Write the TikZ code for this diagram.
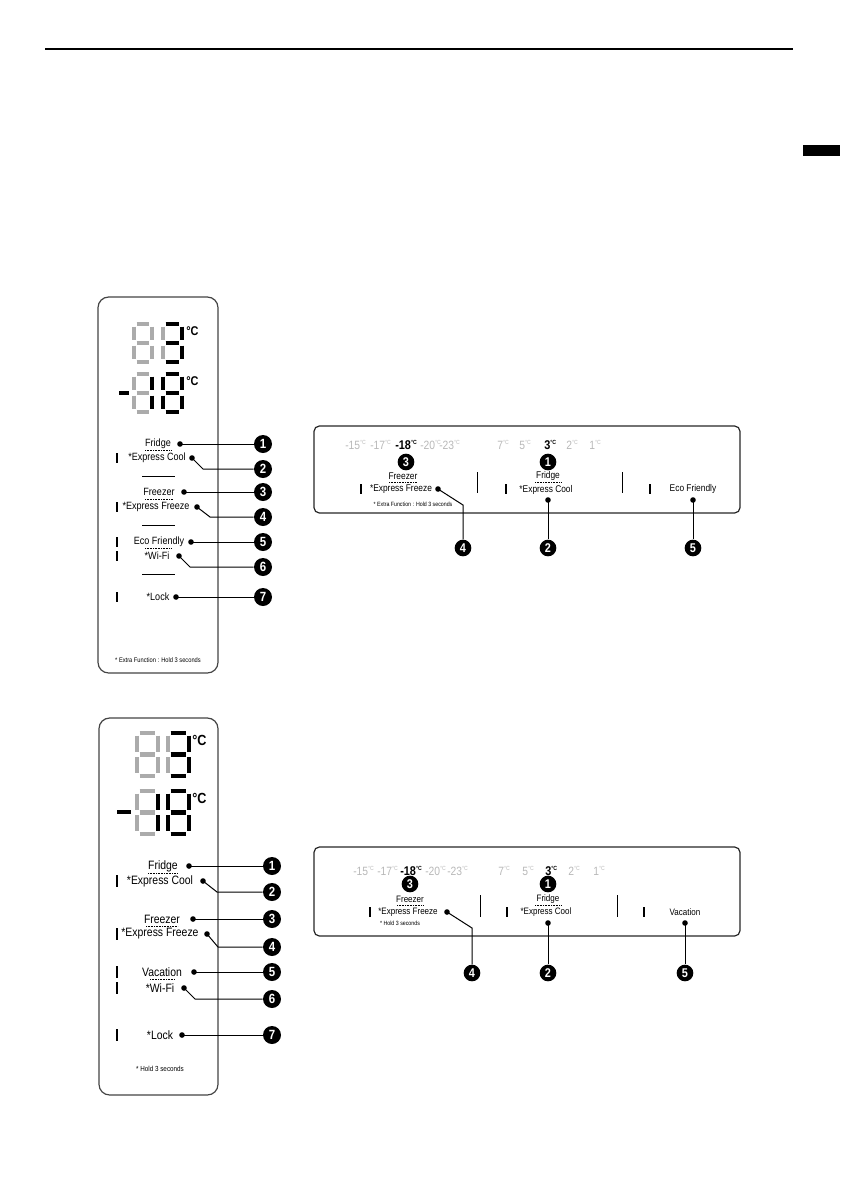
\documentclass[tikz,border=0pt]{standalone}
\usepackage{fontspec}
\setmainfont[FakeStretch=0.86]{Liberation Sans}
\definecolor{seggray}{HTML}{ABABAB}
\definecolor{tempgray}{HTML}{B8B8B8}
\definecolor{panelline}{HTML}{444444}
\def\segpatha{(\G,0) -- ({\W-\G},0)}
\def\segpathb{(\W,\G) -- (\W,{\H/2-\G})}
\def\segpathc{(\W,{\H/2+\G}) -- (\W,{\H-\G})}
\def\segpathd{(\G,\H) -- ({\W-\G},\H)}
\def\segpathe{(0,{\H/2+\G}) -- (0,{\H-\G})}
\def\segpathf{(0,\G) -- (0,{\H/2-\G})}
\def\segpathg{(\G,{\H/2}) -- ({\W-\G},{\H/2})}
\def\segpathn{}
\newcommand{\drawsegaux}[3]{\draw[line width=#3,draw=#2] #1;}
\newcommand{\drawseg}[3]{\expandafter\drawsegaux\csname segpath#1\endcsname{#2}{#3}}
\newcommand{\segdigit}[6]{%
  \begin{scope}[shift={(#1,#2)}]
    \def\W{#3}\def\H{#4}\def\G{2.6}%
    \foreach \s in {a,b,c,d,e,f,g}{\drawseg{\s}{seggray}{#6}}%
    \foreach \s in {#5}{\drawseg{\s}{black}{#6}}%
  \end{scope}}
\tikzset{
  lblA/.style={font=\fontsize{7.9}{9}\selectfont, inner sep=0pt},
  lblB/.style={font=\fontsize{9.1}{10}\selectfont, inner sep=0pt},
  lblH/.style={font=\fontsize{7.3}{8}\selectfont, inner sep=0pt},
  lblK/.style={font=\fontsize{7.0}{8}\selectfont, inner sep=0pt},
  notetxt/.style={font=\fontsize{5}{6}\selectfont, inner sep=0pt},
  numc/.style={circle, fill=black, text=white, inner sep=0pt, minimum size=13.5pt,
    font=\bfseries\fontsize{10}{10}\selectfont},
  numcs/.style={circle, fill=black, text=white, inner sep=0pt, minimum size=12.5pt,
    font=\bfseries\fontsize{9.5}{10}\selectfont},
  dotn/.style={circle, fill=black, inner sep=0pt, minimum size=4.2pt},
  conn/.style={line width=0.75pt},
  ledbar/.style={fill=black, inner sep=0pt, minimum width=1.9pt, minimum height=7.5pt},
  dotline/.style={line width=0.55pt, dash pattern=on 0.6pt off 0.6pt},
  sepline/.style={line width=0.7pt},
  panelbox/.style={draw=panelline, line width=0.9pt, rounded corners=8pt},
  hbox/.style={draw=black!85, line width=0.9pt, rounded corners=4pt},
  temp/.style={font=\fontsize{9}{10}\selectfont, text=tempgray, inner sep=0pt, anchor=west},
  tempon/.style={font=\bfseries\fontsize{9.5}{10}\selectfont, text=black, inner sep=0pt, anchor=west},
  degc/.style={font=\bfseries\fontsize{9.5}{10}\selectfont, inner sep=0pt, anchor=west},
}
\newcommand{\dg}{\textsuperscript{\fontsize{4.5}{5}\selectfont °C}}
\begin{document}
\begin{tikzpicture}[x=0.75pt,y=-0.75pt]
\useasboundingbox (0,0) rectangle (840,1190);
% page furniture
\draw[line width=1.1pt] (45,49) -- (793,49);
\fill[black] (803,145) rectangle (840,156);

%================ Panel 1 vertical =================
\draw[panelbox] (98,297) rectangle (218,673);
\segdigit{134}{324}{18}{38}{n}{3.3pt}
\segdigit{163}{324}{19}{38}{a,b,c,d,g}{3.3pt}
\draw[line width=3.3pt] (119,393) -- (129,393);
\segdigit{134}{374}{18}{38}{b,c}{3.3pt}
\segdigit{163}{374}{19}{38}{a,b,c,d,e,f,g}{3.3pt}
\node[degc] (pAdA) at (186,331) {°C};
\node[degc] (pAdB) at (186,381) {°C};

\node[lblA] (pAfr) at (158,444) {Fridge};
\draw[dotline] (145,450.5) -- (171,450.5);
\node[dotn] (pAd1) at (180,444) {};
\node[numc] (pAc1) at (263,444) {1};
\draw[conn] (pAd1.center) -- (pAc1);

\node[ledbar] (pAb2) at (117,458) {};
\node[lblA] (pAec) at (157,458) {*Express Cool};
\node[dotn] (pAd2) at (192,458) {};
\coordinate (pAe2) at (203,469);
\node[numc] (pAc2) at (263,469) {2};
\draw[conn] (pAd2.center) -- (pAe2) -- (pAc2);

\draw[sepline] (142,476) -- (175,476);

\node[lblA] (pAfz) at (159,492) {Freezer};
\draw[dotline] (145,499.5) -- (173,499.5);
\node[dotn] (pAd3) at (184,492) {};
\node[numc] (pAc3) at (263,492) {3};
\draw[conn] (pAd3.center) -- (pAc3);

\node[ledbar] (pAb4) at (117,507) {};
\node[lblA] (pAef) at (156,507) {*Express Freeze};
\node[dotn] (pAd4) at (197,507) {};
\coordinate (pAe4) at (210,517);
\node[numc] (pAc4) at (263,517) {4};
\draw[conn] (pAd4.center) -- (pAe4) -- (pAc4);

\draw[sepline] (142,525) -- (175,525);

\node[ledbar] (pAb5) at (117,542) {};
\node[lblA] (pAeco) at (159,542) {Eco Friendly};
\draw[dotline] (145,548.5) -- (172,548.5);
\node[dotn] (pAd5) at (191,542) {};
\node[numc] (pAc5) at (263,542) {5};
\draw[conn] (pAd5.center) -- (pAc5);

\node[ledbar] (pAb6) at (117,556) {};
\node[lblA] (pAwf) at (157,556) {*Wi-Fi};
\node[dotn] (pAd6) at (179,556) {};
\coordinate (pAe6) at (190,567);
\node[numc] (pAc6) at (263,567) {6};
\draw[conn] (pAd6.center) -- (pAe6) -- (pAc6);

\draw[sepline] (142,574) -- (175,574);

\node[ledbar] (pAb7) at (117,597) {};
\node[lblA] (pAlk) at (158,597) {*Lock};
\node[dotn] (pAd7) at (176,597) {};
\node[numc] (pAc7) at (263,597) {7};
\draw[conn] (pAd7.center) -- (pAc7);

\node[notetxt] (pAnote) at (158,660) {* Extra Function : Hold 3 seconds};

%================ Panel 2 vertical =================
\draw[panelbox] (99,718) rectangle (218,1095);
\segdigit{137}{733}{21}{43}{n}{3.6pt}
\segdigit{168}{733}{21}{43}{a,b,c,d,g}{3.6pt}
\draw[line width=3.6pt] (117,812) -- (131,812);
\segdigit{137}{791}{21}{43}{b,c}{3.6pt}
\segdigit{168}{791}{21}{43}{a,b,c,d,e,f,g}{3.6pt}
\node[degc, font=\bfseries\fontsize{11}{11}\selectfont] (pBdA) at (192,740) {°C};
\node[degc, font=\bfseries\fontsize{11}{11}\selectfont] (pBdB) at (192,798) {°C};

\node[lblB] (pBfr) at (163,866) {Fridge};
\draw[dotline] (148,873) -- (177,873);
\node[dotn] (pBd1) at (189,866) {};
\node[numc] (pBc1) at (272,866) {1};
\draw[conn] (pBd1.center) -- (pBc1);

\node[ledbar, minimum height=8.5pt] (pBb2) at (117,881) {};
\node[lblB] (pBec) at (160,881) {*Express Cool};
\node[dotn] (pBd2) at (203,881) {};
\coordinate (pBe2) at (217,892);
\node[numc] (pBc2) at (272,892) {2};
\draw[conn] (pBd2.center) -- (pBe2) -- (pBc2);

\node[lblB] (pBfz) at (162,919) {Freezer};
\draw[dotline] (146,926.5) -- (178,926.5);
\node[dotn] (pBd3) at (193,919) {};
\node[numc] (pBc3) at (272,919) {3};
\draw[conn] (pBd3.center) -- (pBc3);

\node[ledbar, minimum height=8.5pt] (pBb4) at (117,934) {};
\node[lblB] (pBef) at (160,934) {*Express Freeze};
\node[dotn] (pBd4) at (207,934) {};
\coordinate (pBe4) at (218,947);
\node[numc] (pBc4) at (272,947) {4};
\draw[conn] (pBd4.center) -- (pBe4) -- (pBc4);

\node[ledbar, minimum height=8.5pt] (pBb5) at (117,972) {};
\node[lblB] (pBvc) at (162,972) {Vacation};
\draw[dotline] (150,979.5) -- (175,979.5);
\node[dotn] (pBd5) at (194,972) {};
\node[numc] (pBc5) at (272,972) {5};
\draw[conn] (pBd5.center) -- (pBc5);

\node[ledbar, minimum height=8.5pt] (pBb6) at (117,988) {};
\node[lblB] (pBwf) at (160,988) {*Wi-Fi};
\node[dotn] (pBd6) at (184,988) {};
\coordinate (pBe6) at (195,999);
\node[numc] (pBc6) at (272,999) {6};
\draw[conn] (pBd6.center) -- (pBe6) -- (pBc6);

\node[ledbar, minimum height=8.5pt] (pBb7) at (117,1035) {};
\node[lblB] (pBlk) at (160,1035) {*Lock};
\node[dotn] (pBd7) at (182,1035) {};
\node[numc] (pBc7) at (272,1035) {7};
\draw[conn] (pBd7.center) -- (pBc7);

\node[notetxt, font=\fontsize{5.5}{6}\selectfont] (pBnote) at (160,1069) {* Hold 3 seconds};

%================ Horizontal panel 1 =================
\draw[hbox] (314,426) rectangle (740,513);
\node[temp]   (hAt1) at (345,445) {-15\dg};
\node[temp]   (hAt2) at (370,445) {-17\dg};
\node[tempon] (hAt3) at (395,445) {-18\dg};
\node[temp]   (hAt4) at (420,445) {-20\dg};
\node[temp]   (hAt5) at (439,445) {-23\dg};
\node[temp]   (hAt6) at (497,445) {7\dg};
\node[temp]   (hAt7) at (519,445) {5\dg};
\node[tempon] (hAt8) at (544,445) {3\dg};
\node[temp]   (hAt9) at (566,445) {2\dg};
\node[temp]   (hAt10) at (589,445) {1\dg};
\node[numcs] (hAn3) at (406,462) {3};
\node[numcs] (hAn1) at (548,462) {1};
\node[lblH] (hAfz) at (403,476) {Freezer};
\draw[dotline] (389,482.5) -- (417,482.5);
\node[lblH] (hAfr) at (548,476) {Fridge};
\draw[dotline] (535,482.5) -- (561,482.5);

\node[ledbar] (hAb4) at (361,489) {};
\node[lblH] (hAef) at (401,489.5) {*Express Freeze};
\node[dotn] (hAd4) at (438,489) {};
\coordinate (hAe4) at (463,505);
\node[numcs] (hAc4) at (463,548) {4};
\draw[conn] (hAd4.center) -- (hAe4) -- (hAc4);

\draw[sepline] (477,472) -- (477,493);

\node[ledbar] (hAb2) at (506,489) {};
\node[lblH] (hAec) at (546,489.5) {*Express Cool};
\node[dotn] (hAd2) at (548,500) {};
\node[numcs] (hAc2) at (548,548) {2};
\draw[conn] (hAd2.center) -- (hAc2);

\draw[sepline] (622,472) -- (622,493);

\node[ledbar] (hAb5) at (650,489) {};
\node[lblH] (hAeco) at (693,489) {Eco Friendly};
\node[dotn] (hAd5) at (693,500) {};
\node[numcs] (hAc5) at (693,548) {5};
\draw[conn] (hAd5.center) -- (hAc5);

\node[notetxt, font=\fontsize{4.6}{5}\selectfont] (hAnote) at (413,504) {* Extra Function : Hold 3 seconds};

%================ Horizontal panel 2 =================
\draw[hbox] (314,847) rectangle (740,936);
\node[temp]   (hBt1) at (353,871) {-15\dg};
\node[temp]   (hBt2) at (377,871) {-17\dg};
\node[tempon] (hBt3) at (400,871) {-18\dg};
\node[temp]   (hBt4) at (425,871) {-20\dg};
\node[temp]   (hBt5) at (447,871) {-23\dg};
\node[temp]   (hBt6) at (498,871) {7\dg};
\node[temp]   (hBt7) at (522,871) {5\dg};
\node[tempon] (hBt8) at (545,871) {3\dg};
\node[temp]   (hBt9) at (568,871) {2\dg};
\node[temp]   (hBt10) at (593,871) {1\dg};
\node[numcs] (hBn3) at (410,884) {3};
\node[numcs] (hBn1) at (548,884) {1};
\node[lblK] (hBfz) at (410,899.5) {Freezer};
\draw[dotline] (397,905.5) -- (424,905.5);
\node[lblK] (hBfr) at (548,899.5) {Fridge};
\draw[dotline] (535,905.5) -- (561,905.5);

\node[ledbar] (hBb4) at (370,912) {};
\node[lblK] (hBef) at (408,912.5) {*Express Freeze};
\node[dotn] (hBd4) at (447,912) {};
\coordinate (hBe4) at (472,928);
\node[numcs] (hBc4) at (472,973) {4};
\draw[conn] (hBd4.center) -- (hBe4) -- (hBc4);

\draw[sepline] (480,895) -- (480,917);

\node[ledbar] (hBb2) at (507,912) {};
\node[lblK] (hBec) at (546,912.5) {*Express Cool};
\node[dotn] (hBd2) at (548,923) {};
\node[numcs] (hBc2) at (548,973) {2};
\draw[conn] (hBd2.center) -- (hBc2);

\draw[sepline] (617,895) -- (617,917);

\node[ledbar] (hBb5) at (644,912) {};
\node[lblK] (hBvc) at (685,912) {Vacation};
\node[dotn] (hBd5) at (685,923) {};
\node[numcs] (hBc5) at (685,973) {5};
\draw[conn] (hBd5.center) -- (hBc5);

\node[notetxt, font=\fontsize{4.6}{5}\selectfont] (hBnote) at (400,923) {* Hold 3 seconds};
\end{tikzpicture}
\end{document}
